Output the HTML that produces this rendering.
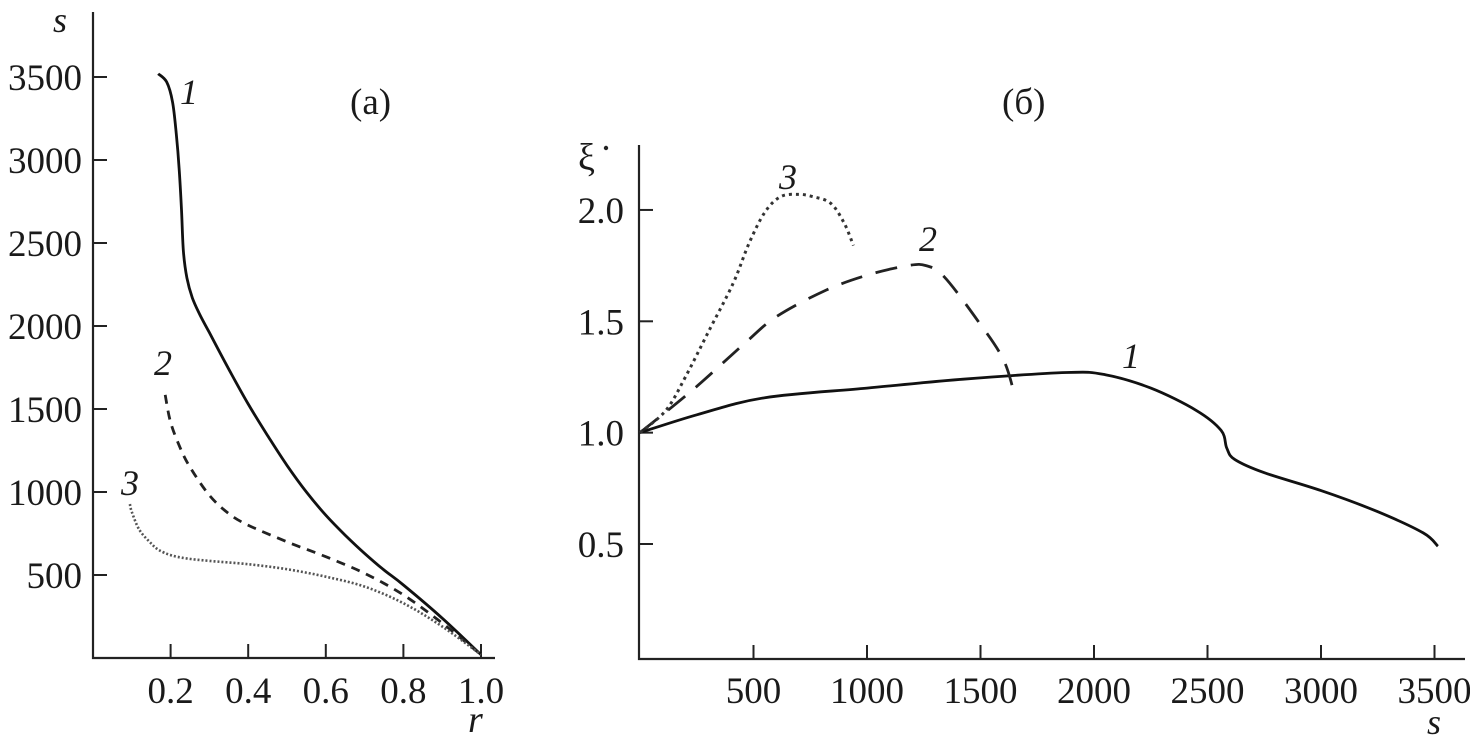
<!DOCTYPE html>
<html><head><meta charset="utf-8"><style>
html,body{margin:0;padding:0;background:#fff}
svg{display:block}
text{font-family:"Liberation Serif",serif;fill:#1a1a1a}
</style></head><body>
<svg id="c" width="1470" height="741" xmlns="http://www.w3.org/2000/svg"></svg>
<script>
// Panel (a): r vs s
const aXTicks=[0.2,0.4,0.6,0.8,1.0];
const aXTickLabels=["0.2","0.4","0.6","0.8","1.0"];
const aYTicks=[500,1000,1500,2000,2500,3000,3500];
const aYTickLabels=["500","1000","1500","2000","2500","3000","3500"];
const aCurve1R=[0.168,0.19,0.205,0.215,0.222,0.228,0.233,0.242,0.256,0.275,0.3,0.35,0.4,0.45,0.5,0.55,0.6,0.65,0.7,0.75,0.8,0.9,1.0];
const aCurve1S=[3520,3470,3350,3150,2950,2700,2450,2290,2170,2070,1960,1740,1530,1340,1160,1000,860,740,630,530,440,240,20];
const aCurve2R=[0.186,0.2,0.224,0.25,0.3,0.35,0.4,0.5,0.6,0.7,0.8,0.9,1.0];
const aCurve2S=[1585,1420,1270,1150,980,870,800,700,610,510,380,210,20];
const aCurve3R=[0.095,0.1,0.12,0.15,0.17,0.2,0.24,0.3,0.4,0.5,0.6,0.7,0.8,0.9,1.0];
const aCurve3S=[927,880,770,690,650,620,600,585,565,535,490,430,330,190,20];
// Panel (b): s vs xi-dot
const bXTicks=[500,1000,1500,2000,2500,3000,3500];
const bXTickLabels=["500","1000","1500","2000","2500","3000","3500"];
const bYTicks=[0.5,1.0,1.5,2.0];
const bYTickLabels=["0.5","1.0","1.5","2.0"];
const bCurve1S=[0,250,550,1000,1424,1880,2050,2250,2450,2560,2585,2620,2750,3000,3250,3450,3515];
const bCurve1X=[1.0,1.08,1.157,1.2,1.24,1.27,1.26,1.2,1.1,1.01,0.93,0.88,0.82,0.74,0.645,0.55,0.49];
const bCurve2S=[0,230,460,600,820,1010,1180,1260,1340,1490,1600,1650];
const bCurve2X=[1.0,1.19,1.40,1.52,1.64,1.71,1.75,1.75,1.70,1.50,1.33,1.17];
const bCurve3S=[0,114,200,300,410,480,550,620,700,760,840,900,940];
const bCurve3X=[1.0,1.10,1.25,1.45,1.67,1.85,1.99,2.06,2.07,2.06,2.03,1.94,1.84];

const NS="http://www.w3.org/2000/svg";
const svg=document.getElementById('c');
function mk(tag,attrs,parent){const e=document.createElementNS(NS,tag);for(const k in attrs)e.setAttribute(k,attrs[k]);(parent||svg).appendChild(e);return e;}

const ax=r=>93+r*388, ay=s=>658-s*0.166;
const bx=s=>640+s*0.227, by=v=>544-(v-0.5)*222.7;

function smoothPath(xs,ys,fx,fy){
  const p=xs.map((x,i)=>[fx(x),fy(ys[i])]);
  let d="M"+p[0][0].toFixed(1)+","+p[0][1].toFixed(1);
  for(let i=0;i<p.length-1;i++){
    const p0=p[i-1]||p[i],p1=p[i],p2=p[i+1],p3=p[i+2]||p2;
    const c1=[p1[0]+(p2[0]-p0[0])/6,p1[1]+(p2[1]-p0[1])/6];
    const c2=[p2[0]-(p3[0]-p1[0])/6,p2[1]-(p3[1]-p1[1])/6];
    d+=" C"+c1.map(v=>v.toFixed(1)).join(",")+" "+c2.map(v=>v.toFixed(1)).join(",")+" "+p2[0].toFixed(1)+","+p2[1].toFixed(1);
  }
  return d;
}
const FS=37;

// ===== Panel a
const ga=mk('g',{});


let e=mk('path',{d:"M93,12 V658 H495",fill:"none",stroke:"#222","stroke-width":2.2},ga);


aXTicks.forEach((t,i)=>{
  const l=mk('line',{x1:ax(t),x2:ax(t),y1:658,y2:644,stroke:"#222","stroke-width":2},ga);
  
  
  const tx=mk('text',{x:ax(t),y:703,"font-size":FS,"text-anchor":"middle"},ga);
  tx.textContent=aXTickLabels[i];
  
  
});
aYTicks.forEach((t,i)=>{
  const l=mk('line',{x1:93,x2:107,y1:ay(t),y2:ay(t),stroke:"#222","stroke-width":2},ga);
  
  
  const tx=mk('text',{x:82,y:ay(t)+13,"font-size":FS,"text-anchor":"end"},ga);
  tx.textContent=aYTickLabels[i];
  
  
});
e=mk('text',{x:53,y:32,"font-size":36,"font-style":"italic"},ga);e.textContent="s";


e=mk('text',{x:468,y:732,"font-size":38,"font-style":"italic"},ga);e.textContent="r";


e=mk('text',{x:350,y:114,"font-size":37},ga);e.textContent="(a)";



e=mk('path',{d:smoothPath(aCurve1R,aCurve1S,ax,ay),fill:"none",stroke:"#111","stroke-width":2.8},ga);


e=mk('path',{d:smoothPath(aCurve2R,aCurve2S,ax,ay),fill:"none",stroke:"#222","stroke-width":2.8,"stroke-dasharray":"9,7"},ga);


e=mk('path',{d:smoothPath(aCurve3R,aCurve3S,ax,ay),fill:"none",stroke:"#555","stroke-width":2.6,"stroke-dasharray":"2,2"},ga);


[["1",180,104],["2",154,375],["3",121,495]].forEach(a=>{
  const t=mk('text',{x:a[1],y:a[2],"font-size":36,"font-style":"italic"},ga);t.textContent=a[0];
  
  
});

// ===== Panel b
const gb=mk('g',{});


e=mk('path',{d:"M639,145 V659 H1465",fill:"none",stroke:"#222","stroke-width":2.2},gb);


bXTicks.forEach((t,i)=>{
  const l=mk('line',{x1:bx(t),x2:bx(t),y1:659,y2:645,stroke:"#222","stroke-width":2},gb);
  
  
  const tx=mk('text',{x:bx(t),y:703,"font-size":FS,"text-anchor":"middle"},gb);
  tx.textContent=bXTickLabels[i];
  
  
});
bYTicks.forEach((t,i)=>{
  const l=mk('line',{x1:639,x2:653,y1:by(t),y2:by(t),stroke:"#222","stroke-width":2},gb);
  
  
  const tx=mk('text',{x:624,y:by(t)+13,"font-size":FS,"text-anchor":"end"},gb);
  tx.textContent=bYTickLabels[i];
  
  
});
e=mk('text',{x:578,y:170,"font-size":38},gb);e.textContent="ξ";


e=mk('circle',{cx:606,cy:148,r:2.2,fill:"#222"},gb);


e=mk('text',{x:1427,y:734,"font-size":36,"font-style":"italic"},gb);e.textContent="s";


e=mk('text',{x:1002,y:114,"font-size":37},gb);e.textContent="(б)";



e=mk('path',{d:smoothPath(bCurve1S,bCurve1X,bx,by),fill:"none",stroke:"#111","stroke-width":2.8},gb);


e=mk('path',{d:smoothPath(bCurve2S,bCurve2X,bx,by),fill:"none",stroke:"#222","stroke-width":2.8,"stroke-dasharray":"22,14"},gb);


e=mk('path',{d:smoothPath(bCurve3S,bCurve3X,bx,by),fill:"none",stroke:"#333","stroke-width":3,"stroke-dasharray":"3,4"},gb);


[["3",779,189],["2",919,251],["1",1122,368]].forEach(a=>{
  const t=mk('text',{x:a[1],y:a[2],"font-size":36,"font-style":"italic"},gb);t.textContent=a[0];
  
  
});
</script>
</body></html>
